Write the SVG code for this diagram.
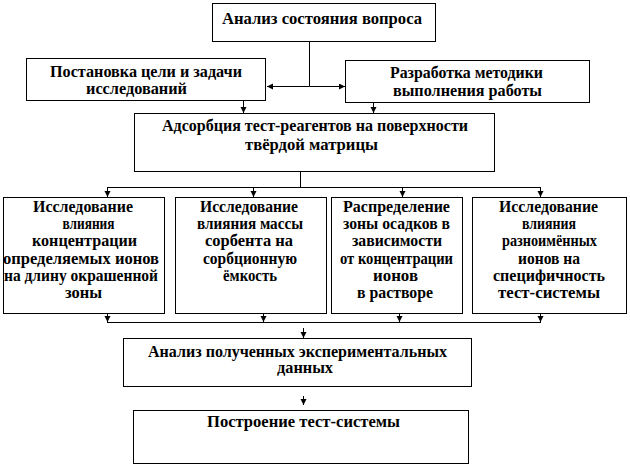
<svg xmlns="http://www.w3.org/2000/svg" width="630" height="467" viewBox="0 0 630 467">
<defs>
<marker id="ah" markerUnits="userSpaceOnUse" markerWidth="7" markerHeight="7" refX="6" refY="3" orient="auto">
<path d="M0,0 L6,3 L0,6 z" fill="#000"/>
</marker>
<style>
rect{fill:#fff;stroke:#000;stroke-width:1}
text{font-family:"Liberation Serif","DejaVu Serif",serif;font-weight:bold;font-size:16px;text-anchor:middle;fill:#000}
.c line,.c path{stroke:#000;stroke-width:1;fill:none}
.a{marker-end:url(#ah)}
</style>
</defs>
<rect x="0" y="0" width="630" height="467" style="fill:#fff;stroke:none"/>
<g class="c" id="connectors">
<line x1="309.5" y1="42" x2="309.5" y2="86.5"/>
<line class="a" x1="309.5" y1="86.5" x2="267" y2="86.5"/>
<line class="a" x1="309.5" y1="86.5" x2="345" y2="86.5"/>
<line class="a" x1="243.5" y1="100" x2="243.5" y2="113"/>
<line class="a" x1="373.5" y1="102" x2="373.5" y2="113"/>
<line x1="300.5" y1="171" x2="300.5" y2="187.5"/>
<line x1="107" y1="187.5" x2="541" y2="187.5"/>
<line class="a" x1="107.5" y1="187.5" x2="107.5" y2="197"/>
<line class="a" x1="253.5" y1="187.5" x2="253.5" y2="197"/>
<line class="a" x1="402.5" y1="187.5" x2="402.5" y2="197"/>
<line class="a" x1="540.5" y1="187.5" x2="540.5" y2="197"/>
<line class="a" x1="107.5" y1="313" x2="107.5" y2="322"/>
<line class="a" x1="263.5" y1="313" x2="263.5" y2="322"/>
<line class="a" x1="399.5" y1="313" x2="399.5" y2="322"/>
<line class="a" x1="540.5" y1="313" x2="540.5" y2="322"/>
<line x1="107" y1="322.5" x2="541" y2="322.5"/>
<line class="a" x1="303.5" y1="328" x2="303.5" y2="338"/>
<line class="a" x1="303.5" y1="396" x2="303.5" y2="405"/>
</g>
<g id="n1">
<rect x="212.5" y="3.5" width="223" height="38"/>
<text x="322" y="24" textLength="200" lengthAdjust="spacingAndGlyphs">Анализ состояния вопроса</text>
</g>
<g id="n2">
<rect x="26.5" y="58.5" width="239" height="42"/>
<text x="146" y="77" textLength="192" lengthAdjust="spacingAndGlyphs">Постановка цели и задачи</text>
<text x="136.5" y="94" textLength="101" lengthAdjust="spacingAndGlyphs">исследований</text>
</g>
<g id="n3">
<rect x="345.5" y="60.5" width="244" height="42"/>
<text x="466.5" y="78" textLength="153" lengthAdjust="spacingAndGlyphs">Разработка методики</text>
<text x="467.5" y="96" textLength="149" lengthAdjust="spacingAndGlyphs">выполнения работы</text>
</g>
<g id="n4">
<rect x="134.5" y="113.5" width="360" height="58"/>
<text x="315" y="131" textLength="306" lengthAdjust="spacingAndGlyphs">Адсорбция тест-реагентов на поверхности</text>
<text x="311.5" y="150" textLength="133" lengthAdjust="spacingAndGlyphs">твёрдой матрицы</text>
</g>
<g id="n5">
<rect x="3.5" y="197.5" width="161" height="116"/>
<text x="83" y="212" textLength="100" lengthAdjust="spacingAndGlyphs">Исследование</text>
<text x="88.5" y="229" textLength="52" lengthAdjust="spacingAndGlyphs">влияния</text>
<text x="84.5" y="246" textLength="105" lengthAdjust="spacingAndGlyphs">концентрации</text>
<text x="81" y="264" textLength="156" lengthAdjust="spacingAndGlyphs">определяемых ионов</text>
<text x="81" y="281" textLength="154" lengthAdjust="spacingAndGlyphs">на длину окрашенной</text>
<text x="83.5" y="298" textLength="37" lengthAdjust="spacingAndGlyphs">зоны</text>
</g>
<g id="n6">
<rect x="175.5" y="197.5" width="151" height="116"/>
<text x="249" y="212" textLength="98" lengthAdjust="spacingAndGlyphs">Исследование</text>
<text x="250" y="229" textLength="106" lengthAdjust="spacingAndGlyphs">влияния массы</text>
<text x="249" y="246" textLength="88" lengthAdjust="spacingAndGlyphs">сорбента на</text>
<text x="250" y="264" textLength="94" lengthAdjust="spacingAndGlyphs">сорбционную</text>
<text x="250" y="281" textLength="54" lengthAdjust="spacingAndGlyphs">ёмкость</text>
</g>
<g id="n7">
<rect x="331.5" y="197.5" width="131" height="116"/>
<text x="396.5" y="212" textLength="107" lengthAdjust="spacingAndGlyphs">Распределение</text>
<text x="396.5" y="229" textLength="107" lengthAdjust="spacingAndGlyphs">зоны осадков в</text>
<text x="397" y="246" textLength="90" lengthAdjust="spacingAndGlyphs">зависимости</text>
<text x="396.5" y="264" textLength="113" lengthAdjust="spacingAndGlyphs">от концентрации</text>
<text x="395.5" y="281" textLength="45" lengthAdjust="spacingAndGlyphs">ионов</text>
<text x="395" y="298" textLength="76" lengthAdjust="spacingAndGlyphs">в растворе</text>
</g>
<g id="n8">
<rect x="472.5" y="197.5" width="154" height="116"/>
<text x="548.5" y="212" textLength="99" lengthAdjust="spacingAndGlyphs">Исследование</text>
<text x="549" y="229" textLength="54" lengthAdjust="spacingAndGlyphs">влияния</text>
<text x="549.5" y="246" textLength="95" lengthAdjust="spacingAndGlyphs">разноимённых</text>
<text x="549" y="264" textLength="62" lengthAdjust="spacingAndGlyphs">ионов на</text>
<text x="549" y="281" textLength="112" lengthAdjust="spacingAndGlyphs">специфичность</text>
<text x="549" y="298" textLength="102" lengthAdjust="spacingAndGlyphs">тест-системы</text>
</g>
<g id="n9">
<rect x="123.5" y="338.5" width="348" height="48"/>
<text x="297.5" y="357" textLength="299" lengthAdjust="spacingAndGlyphs">Анализ полученных экспериментальных</text>
<text x="305" y="373" textLength="56" lengthAdjust="spacingAndGlyphs">данных</text>
</g>
<g id="n10">
<rect x="133.5" y="410.5" width="335" height="53"/>
<text x="303.5" y="427" textLength="193" lengthAdjust="spacingAndGlyphs">Построение тест-системы</text>
</g>
</svg>
